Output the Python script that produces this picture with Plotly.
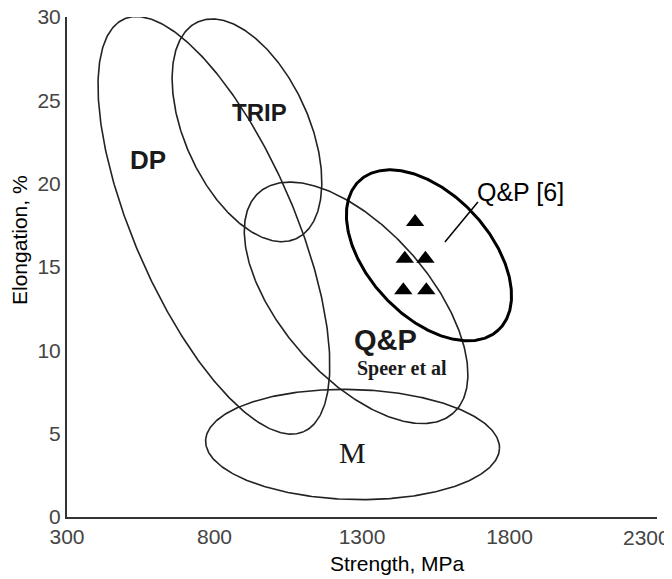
import numpy as np
import plotly.graph_objects as go

# ---- axis settings ----
x_range = [300, 2300]
y_range = [0, 30]
x_ticks = [300, 800, 1300, 1800, 2300]
x_tick_labels = ["300", "800", "1300", "1800", "2300"]
y_ticks = [0, 5, 10, 15, 20, 25, 30]

# ---- region outlines (ellipses): centre in data units, semi-axes in px, tilt in deg ----
region_names = ["DP", "TRIP", "Q&P Speer", "Q&P [6]", "M"]
region_cx = [798, 910, 1280, 1527, 1268]
region_cy = [17.5, 23.2, 12.85, 15.7, 4.35]
region_a = [225, 119, 147, 102, 147]
region_b = [80, 62, 74, 61, 55]
region_tilt = [66.5, 65.6, 48.7, 47.1, 1.5]
region_width = [1.6, 1.6, 1.6, 3.0, 1.6]
region_color = ["#222222", "#222222", "#222222", "#000000", "#222222"]

# ---- Q&P [6] measured points ----
qp_strength = [1480, 1445, 1515, 1440, 1518]
qp_elongation = [17.7, 15.5, 15.5, 13.6, 13.6]

# ---- labels ----
label_text = ["DP", "TRIP", "Q&P", "Speer et al", "M"]
label_x = [575, 954, 1381, 1436, 1269]
label_y = [21.4, 24.3, 10.6, 8.9, 3.9]

# page has an 8px body margin, so the figure is shrunk to fit the 672x579 window
W, H = 664, 571
ML, MR, MT, MB = 59, 15, 9, 62
pw, ph = W - ML - MR, H - MT - MB
sx = pw / (x_range[1] - x_range[0])
sy = ph / (y_range[1] - y_range[0])

fig = go.Figure()
t = np.linspace(0, 2 * np.pi, 400)
for name, cx, cy, a, b, th, lw, col in zip(region_names, region_cx, region_cy, region_a,
                                           region_b, region_tilt, region_width, region_color):
    r = np.deg2rad(th)
    dx = a * np.cos(t) * np.cos(r) - b * np.sin(t) * np.sin(r)
    dy = a * np.cos(t) * np.sin(r) + b * np.sin(t) * np.cos(r)
    fig.add_trace(go.Scatter(x=cx + dx / sx, y=cy - dy / sy, mode="lines",
                             line=dict(color=col, width=lw), hoverinfo="skip",
                             showlegend=False, name=name))

fig.add_trace(go.Scatter(x=qp_strength, y=qp_elongation, mode="markers",
                         marker=dict(symbol="triangle-up", size=16, color="black"),
                         showlegend=False, name="Q&P [6]"))

# leader line for Q&P [6]
fig.add_trace(go.Scatter(x=[1693, 1581], y=[18.9, 16.5], mode="lines",
                         line=dict(color="black", width=1.5), showlegend=False,
                         hoverinfo="skip"))

fonts = [
    dict(family="Liberation Sans, Arial", size=26, color="#1a1a1a"),
    dict(family="Liberation Sans, Arial", size=24, color="#1a1a1a"),
    dict(family="Liberation Sans, Arial", size=29, color="#1a1a1a"),
    dict(family="Liberation Serif, Times New Roman", size=20, color="#1a1a1a"),
    dict(family="Liberation Serif, Times New Roman", size=30, color="#1a1a1a"),
]
bold = [True, True, True, True, False]
for txt, x, y, f, bd in zip(label_text, label_x, label_y, fonts, bold):
    fig.add_annotation(x=x, y=y, text=f"<b>{txt}</b>" if bd else txt, showarrow=False,
                       font=f, xanchor="center", yanchor="middle")

fig.add_annotation(x=1836, y=19.5, text="Q&P [6]", showarrow=False,
                   font=dict(family="Liberation Sans, Arial", size=25, color="black"),
                   xanchor="center", yanchor="middle")

# axis titles
fig.add_annotation(xref="paper", yref="paper", x=0.561, y=-0.092, text="Strength, MPa",
                   showarrow=False, font=dict(family="Liberation Sans, Arial", size=21, color="black"),
                   xanchor="center", yanchor="middle")
fig.add_annotation(xref="paper", yref="paper", x=-0.0797, y=0.554, text="Elongation, %",
                   showarrow=False, textangle=-90,
                   font=dict(family="Liberation Sans, Arial", size=21, color="black"),
                   xanchor="center", yanchor="middle")

tick_font = dict(family="Liberation Sans, Arial", size=21, color="#444444")
# last x tick label sits at the right edge of the window: right-aligned so it stays whole
fig.add_annotation(xref="paper", yref="paper", x=1.0, xshift=15, y=0, yshift=-20,
                   text=x_tick_labels[-1], showarrow=False, font=tick_font,
                   xanchor="right", yanchor="middle")

axis_common = dict(showgrid=False, zeroline=False, showline=True, linecolor="#333333",
                   linewidth=2, ticks="", automargin=False, ticklabeloverflow="allow",
                   tickfont=tick_font)
fig.update_xaxes(range=x_range, tickvals=x_ticks,
                 ticktext=x_tick_labels[:-1] + [""], **axis_common)
fig.update_yaxes(range=y_range, tickvals=y_ticks, **axis_common)

fig.update_layout(width=W, height=H, margin=dict(l=ML, r=MR, t=MT, b=MB),
                  plot_bgcolor="white", paper_bgcolor="white", showlegend=False)

fig.write_html("out.html")
